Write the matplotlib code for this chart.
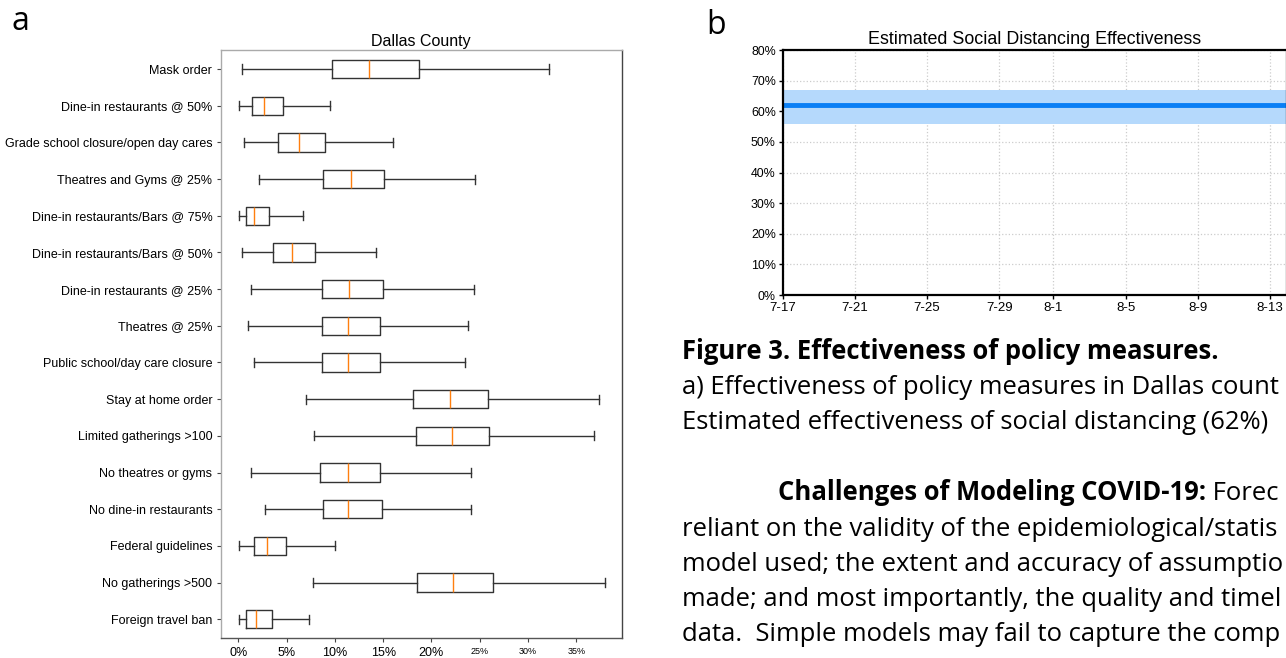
import matplotlib
matplotlib.use("Agg")
import matplotlib.pyplot as plt
import pandas as pd
from matplotlib.ticker import FuncFormatter

# ---------------- data: panel a (Dallas County policy effectiveness, %) ----------------
policies = [
    "Mask order",
    "Dine-in restaurants @ 50%",
    "Grade school closure/open day cares",
    "Theatres and Gyms @ 25%",
    "Dine-in restaurants/Bars @ 75%",
    "Dine-in restaurants/Bars @ 50%",
    "Dine-in restaurants @ 25%",
    "Theatres @ 25%",
    "Public school/day care closure",
    "Stay at home order",
    "Limited gatherings >100",
    "No theatres or gyms",
    "No dine-in restaurants",
    "Federal guidelines",
    "No gatherings >500",
    "Foreign travel ban",
]
whisk_lo = [0.35, 0.1, 0.55, 2.1, 0.1, 0.4, 1.3, 1.0, 1.6, 7.0, 7.85, 1.3, 2.8, 0.1, 7.7, 0.1]
q1       = [9.7, 1.45, 4.15, 8.8, 0.75, 3.6, 8.65, 8.65, 8.7, 18.1, 18.4, 8.5, 8.8, 1.6, 18.5, 0.75]
median   = [13.5, 2.7, 6.3, 11.7, 1.65, 5.6, 11.45, 11.35, 11.35, 21.9, 22.1, 11.35, 11.35, 2.95, 22.2, 1.85]
q3       = [18.7, 4.65, 8.95, 15.05, 3.2, 7.9, 15.0, 14.7, 14.7, 25.9, 26.0, 14.7, 14.9, 4.95, 26.4, 3.5]
whisk_hi = [32.2, 9.45, 16.0, 24.55, 6.65, 14.25, 24.4, 23.8, 23.5, 37.3, 36.8, 24.1, 24.1, 10.0, 38.0, 7.35]
xticks_a = [0, 5, 10, 15, 20, 25, 30, 35]

# ---------------- data: panel b (estimated social distancing effectiveness, %) ----------------
sd_dates = ["2020-07-17", "2020-08-14"]
sd_effect = [62, 62]
sd_low = [56, 56]
sd_high = [67, 67]
xtick_dates_b = ["2020-07-17", "2020-07-21", "2020-07-25", "2020-07-29",
                 "2020-08-01", "2020-08-05", "2020-08-09", "2020-08-13"]

W, H = 1286, 658
fig = plt.figure(figsize=(W / 100, H / 100), dpi=100)
fig.patch.set_facecolor("white")

def rect(x0, y0, x1, y1):
    return [x0 / W, 1 - y1 / H, (x1 - x0) / W, (y1 - y0) / H]

tickfont = "Liberation Sans"

# ---------------- panel a ----------------
ax = fig.add_axes(rect(220.7, 50, 621.7, 638.3))
n = len(policies)
positions = list(range(n, 0, -1))
stats = []
for i in range(n):
    stats.append(dict(label=policies[i], whislo=whisk_lo[i], q1=q1[i], med=median[i],
                      q3=q3[i], whishi=whisk_hi[i], fliers=[]))
ax.bxp(stats, positions=positions, vert=False, widths=0.5, showfliers=False,
       boxprops=dict(color="#333333", linewidth=1.0),
       whiskerprops=dict(color="#333333", linewidth=1.0),
       capprops=dict(color="#333333", linewidth=1.0),
       medianprops=dict(color="#ff7f0e", linewidth=1.0))
ax.set_ylim(0.48, n + 0.52)
ax.set_xlim(-1.82, 39.7)
ax.set_xticks(xticks_a)
ax.set_xticklabels([f"{v}%" for v in xticks_a], fontname=tickfont)
for lab, v in zip(ax.get_xticklabels(), xticks_a):
    lab.set_fontsize(9 if v <= 20 else 6.5)
ax.set_yticks(positions)
ax.set_yticklabels(policies, fontname=tickfont, fontsize=9)
ax.tick_params(axis="both", length=3, width=0.8, color="#444444", pad=3)
for s in ax.spines.values():
    s.set_color("#aaaaaa")
    s.set_linewidth(1.0)
ax.spines["right"].set_color("#444444")
ax.spines["bottom"].set_color("#555555")
ax.set_title("Dallas County", fontname=tickfont, fontsize=11.5, pad=3)

# ---------------- panel b ----------------
bx = fig.add_axes(rect(782.7, 50, 1286.5, 295))
d0 = pd.Timestamp(sd_dates[0])
xs = [(pd.Timestamp(d) - d0).days for d in sd_dates]
bx.fill_between(xs, sd_low, sd_high, color="#b5d9fc", linewidth=0)
bx.plot(xs, sd_effect, color="#0a7ff5", linewidth=3.5, solid_capstyle="butt")
bx.set_ylim(0, 80)
bx.set_xlim(0, 27.92)
bx.set_yticks(range(0, 81, 10))
bx.yaxis.set_major_formatter(FuncFormatter(lambda v, p: f"{int(v)}%"))
xt = [(pd.Timestamp(d) - d0).days for d in xtick_dates_b]
bx.set_xticks(xt)
bx.set_xticklabels([f"{pd.Timestamp(d).month}-{pd.Timestamp(d).day}" for d in xtick_dates_b])
for lab in bx.get_yticklabels():
    lab.set_fontname(tickfont)
    lab.set_fontsize(8.9)
for lab in bx.get_xticklabels():
    lab.set_fontname(tickfont)
    lab.set_fontsize(9.5)
bx.grid(True, color="#cccccc", linestyle=":", linewidth=0.9)
bx.set_axisbelow(True)
bx.tick_params(axis="both", length=3, width=1.0, pad=2)
for s in bx.spines.values():
    s.set_color("black")
    s.set_linewidth(1.6)
bx.set_title("Estimated Social Distancing Effectiveness", fontname=tickfont, fontsize=12.9, pad=4)

# ---------------- panel letters & caption text ----------------
fig.text(20 / W, 1 - 21 / H, "a", fontsize=23, family="Open Sans", ha="center", va="center")
fig.text(716 / W, 1 - 25 / H, "b", fontsize=23, family="Open Sans", ha="center", va="center")

txtfont = "Open Sans"
# fit caption size so that the reference line width (681.7 -> 1270 px) is matched
probe = fig.text(0, 0, "Estimated effectiveness of social distancing (62%)",
                 family=txtfont, fontsize=16)
fig.canvas.draw()
pw = probe.get_window_extent().width
probe.remove()
fs = 16 * (1270 - 681.7) / pw

def ftext(x, y, s, **kw):
    t = fig.text(x / W, 1 - y / H, s, family=txtfont, fontsize=fs, va="baseline", **kw)
    # the page continues past the image edge: keep only what fits inside it
    fig.canvas.draw()
    while t.get_window_extent().x1 > W - 1 and len(t.get_text()) > 1:
        t.set_text(t.get_text()[:-1])
        fig.canvas.draw()
    return t

base_off = 7
ftext(681.7, 352 + base_off, "Figure 3. Effectiveness of policy measures.", weight="bold")
ftext(681.7, 387 + base_off, "a) Effectiveness of policy measures in Dallas county")
ftext(681.7, 422 + base_off, "Estimated effectiveness of social distancing (62%)")
t1 = ftext(778, 493 + base_off, "Challenges of Modeling COVID-19:", weight="bold")
bb = t1.get_window_extent()
ftext(bb.x1, 493 + base_off, " Forecasting")
ftext(681.7, 529 + base_off, "reliant on the validity of the epidemiological/statistical")
ftext(681.7, 564 + base_off, "model used; the extent and accuracy of assumptions")
ftext(681.7, 599 + base_off, "made; and most importantly, the quality and timeliness")
ftext(681.7, 634 + base_off, "data.  Simple models may fail to capture the complexity")

fig.savefig("out.png", dpi=100)
